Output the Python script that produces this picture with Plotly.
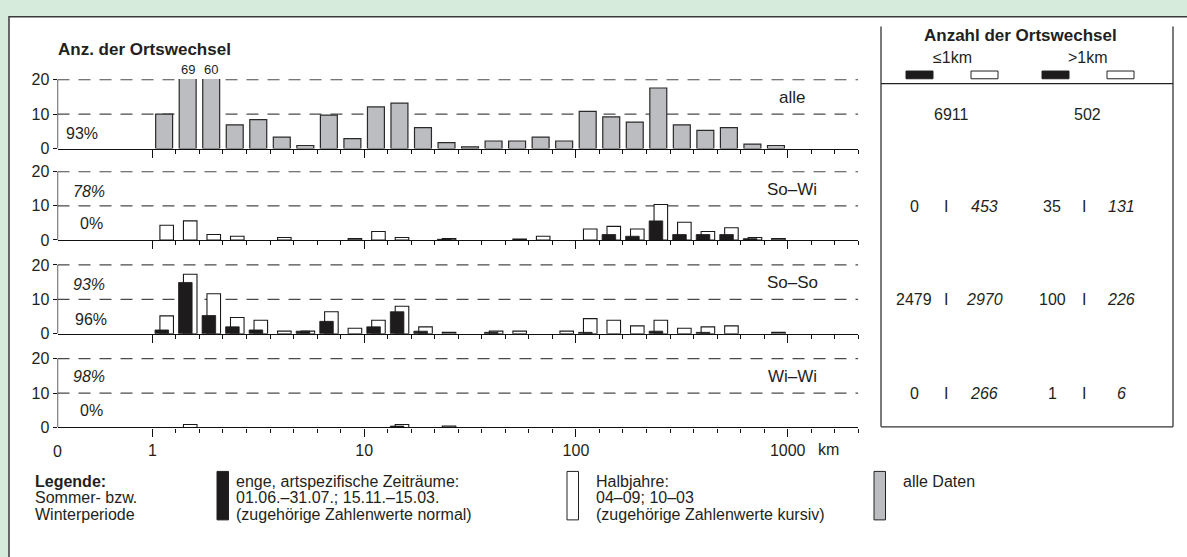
import math
import plotly.graph_objects as go

# ---------------- data ----------------
BINS_PER_DECADE = 9          # logarithmic distance classes, 9 per decade, starting at 1 km
N_BINS = 30
km_tick_values = [1, 10, 100, 1000]
km_tick_labels = ["1", "10", "100", "1000"]
y_tick_values = [0, 10, 20]

# number of site changes per distance class
alle = [10, 69, 60, 6.9, 8.4, 3.3, 0.9, 9.7, 2.9, 12.1, 13.2, 6.1, 1.7, 0.5, 2.2,
        2.2, 3.3, 2.2, 10.8, 9.2, 7.7, 17.6, 6.9, 5.3, 6.1, 1.3, 0.9, 0, 0, 0]

sowi_halb = [4.3, 5.6, 1.6, 1.1, 0, 0.75, 0, 0, 0.4, 2.5, 0.75, 0, 0.4, 0, 0,
             0.3, 1.1, 0, 3.2, 4.0, 3.2, 10.4, 5.2, 2.5, 3.6, 0.75, 0.4, 0, 0, 0]
sowi_eng = [0, 0, 0, 0, 0, 0, 0, 0, 0, 0, 0, 0, 0.2, 0, 0,
            0, 0, 0, 0, 1.6, 1.1, 5.6, 1.6, 1.6, 1.6, 0.4, 0, 0, 0, 0]

soso_halb = [5.2, 17.3, 11.6, 4.7, 3.9, 0.75, 0.75, 6.4, 1.6, 3.9, 8.0, 2.0, 0.4, 0, 0.75,
             0.75, 0, 0.75, 4.4, 3.9, 2.3, 3.9, 1.6, 2.0, 2.3, 0, 0.4, 0, 0, 0]
soso_eng = [1.1, 14.9, 5.3, 2.0, 1.1, 0, 0.75, 3.6, 0, 2.0, 6.4, 0.75, 0, 0, 0.4,
            0, 0, 0, 0.4, 0, 0, 0.75, 0, 0.4, 0, 0, 0, 0, 0, 0]

wiwi_halb = [0, 0.85, 0, 0, 0, 0, 0, 0, 0, 0, 0.85, 0, 0.4, 0, 0,
             0, 0, 0, 0, 0, 0, 0, 0, 0, 0, 0, 0, 0, 0, 0]
wiwi_eng = [0, 0, 0, 0, 0, 0, 0, 0, 0, 0, 0.4, 0, 0, 0, 0,
            0, 0, 0, 0, 0, 0, 0, 0, 0, 0, 0, 0, 0, 0, 0]

panel_names = ["alle", "So–Wi", "So–So", "Wi–Wi"]
pct_kursiv = [None, "78%", "93%", "98%"]
pct_normal = ["93%", "0%", "96%", "0%"]

tab_alle = ["6911", "502"]
tab_le1_eng = ["0", "2479", "0"]
tab_le1_halb = ["453", "2970", "266"]
tab_gt1_eng = ["35", "100", "1"]
tab_gt1_halb = ["131", "226", "6"]

# ---------------- style ----------------
W, H = 1187, 557
FONT = "Liberation Sans, Arial, sans-serif"
TXT = "#231f20"
GRAY = "#bcbdc1"
BLACK = "#1d1b1c"
GREEN = "#d6ebdb"


def px(x):
    return x / W


def py(y):
    return 1 - y / H


log_ticks = [math.log10(v) for v in km_tick_values]
edges = [i / BINS_PER_DECADE for i in range(N_BINS + 1)]
centers = [(i + 0.5) / BINS_PER_DECADE for i in range(N_BINS)]
X_MIN, X_MAX = -0.448, N_BINS / BINS_PER_DECADE
Y_TOP = 20.25   # a little headroom above 20

GRAY_W = 0.080
NARROW_W = 0.064
OFF_ENG = -0.011
OFF_HALB = 0.012


def nz(v):
    return [None if a == 0 else a for a in v]


fig = go.Figure()

# panel 1 : all data
fig.add_trace(go.Bar(x=centers, y=nz(alle), width=[GRAY_W] * N_BINS,
                     marker=dict(color=GRAY, line=dict(color="#2a2a2a", width=1.2)),
                     xaxis="x", yaxis="y", hoverinfo="skip"))

pairs = [(sowi_halb, sowi_eng), (soso_halb, soso_eng), (wiwi_halb, wiwi_eng)]
for k, (halb, eng) in enumerate(pairs, start=2):
    fig.add_trace(go.Bar(x=[c + OFF_HALB for c in centers], y=nz(halb), width=[NARROW_W] * N_BINS,
                         marker=dict(color="white", line=dict(color="#1a1a1a", width=1.1)),
                         xaxis=f"x{k}", yaxis=f"y{k}", hoverinfo="skip"))
    fig.add_trace(go.Bar(x=[c + OFF_ENG for c in centers], y=nz(eng), width=[NARROW_W] * N_BINS,
                         marker=dict(color=BLACK, line=dict(color=BLACK, width=0.8)),
                         xaxis=f"x{k}", yaxis=f"y{k}", hoverinfo="skip"))

# panel vertical positions (pixel y of value 0 and value 20)
panel_px = [(145, 74), (239.3, 168.9), (336, 265), (432.7, 361.7)]
X_DOMAIN = [px(57.5), px(858.3)]

layout = dict(
    width=W, height=H, margin=dict(l=0, r=0, t=0, b=0), autosize=False,
    paper_bgcolor=GREEN, plot_bgcolor="rgba(0,0,0,0)",
    barmode="overlay", showlegend=False,
    font=dict(family=FONT, size=16, color=TXT),
)

for k in range(1, 5):
    sfx = "" if k == 1 else str(k)
    y0, y20 = panel_px[k - 1]
    y_top_px = y0 - (y0 - y20) * Y_TOP / 20
    layout[f"xaxis{sfx}"] = dict(
        domain=X_DOMAIN, range=[X_MIN, X_MAX], anchor=f"y{sfx}",
        showline=True, linecolor="#111", linewidth=1.3,
        showgrid=False, zeroline=False,
        tickmode="array", tickvals=log_ticks, ticktext=km_tick_labels,
        ticks="outside", ticklen=8, tickwidth=1.3, tickcolor="#111",
        showticklabels=(k == 4), tickfont=dict(size=16, family=FONT, color=TXT),
        minor=dict(tickmode="array", tickvals=edges, ticks="outside", ticklen=4,
                   tickwidth=1.2, tickcolor="#111", showgrid=False),
    )
    layout[f"yaxis{sfx}"] = dict(
        domain=[py(y0), py(y_top_px)], range=[0, Y_TOP], anchor=f"x{sfx}",
        tickmode="array", tickvals=y_tick_values,
        showline=False, showgrid=False, zeroline=False,
        ticks="outside", ticklen=4, tickwidth=1.3, tickcolor="#111",
        tickfont=dict(size=16, family=FONT, color=TXT),
    )

fig.update_layout(**layout)

shapes = []
# white card with frame
shapes.append(dict(type="rect", xref="paper", yref="paper", x0=px(9), x1=px(W + 20),
                   y0=py(H + 20), y1=py(9), fillcolor="white",
                   line=dict(color="#3a3a3a", width=1.5), layer="below"))
for k in range(1, 5):
    sfx = "" if k == 1 else str(k)
    # dashed reference lines at the y tick values (except 0)
    for v in y_tick_values[1:]:
        shapes.append(dict(type="line", xref=f"x{sfx}", yref=f"y{sfx}", x0=X_MIN, x1=X_MAX,
                           y0=v, y1=v, layer="below",
                           line=dict(color="#4a4a4a", width=1.1, dash="12px,9px")))
    # y axis line from 0 to 20
    shapes.append(dict(type="line", xref=f"x{sfx}", yref=f"y{sfx}", x0=X_MIN, x1=X_MIN,
                       y0=0, y1=y_tick_values[-1], line=dict(color="#111", width=1.3)))
# right table box
for xx in (881, 1173):
    shapes.append(dict(type="line", xref="paper", yref="paper", x0=px(xx), x1=px(xx),
                       y0=py(19), y1=py(432), line=dict(color="#333", width=1.3)))
shapes.append(dict(type="line", xref="paper", yref="paper", x0=px(881), x1=px(1173),
                   y0=py(432), y1=py(432), line=dict(color="#333", width=1.3)))
shapes.append(dict(type="line", xref="paper", yref="paper", x0=px(881), x1=px(1173),
                   y0=py(78), y1=py(78), line=dict(color="#222", width=1.3)))
# table key rectangles
for x0, fill in [(906, BLACK), (971, "white"), (1042, BLACK), (1107, "white")]:
    shapes.append(dict(type="rect", xref="paper", yref="paper", x0=px(x0), x1=px(x0 + 27),
                       y0=py(73), y1=py(65), fillcolor=fill, line=dict(color="#222", width=1)))
# legend rectangles
for x0, fill in [(217, BLACK), (567, "white"), (874, GRAY)]:
    shapes.append(dict(type="rect", xref="paper", yref="paper", x0=px(x0), x1=px(x0 + 11.5),
                       y0=py(528), y1=py(478), fillcolor=fill, line=dict(color="#222", width=1)))

ann = []


def T(x, y, text, size=16, xanchor="center", bold=False, italic=False, **kw):
    if bold:
        text = f"<b>{text}</b>"
    if italic:
        text = f"<i>{text}</i>"
    d = dict(x=px(x), y=py(y), xref="paper", yref="paper", text=text, showarrow=False,
             xanchor=xanchor, yanchor="middle", borderpad=0, borderwidth=0,
             font=dict(size=size, family=FONT, color=TXT))
    d.update(kw)
    ann.append(d)


T(58, 43, "Anz. der Ortswechsel", size=17, xanchor="left", bold=True)

# clipped bar values in panel 1
for i, v in enumerate(alle):
    if v > 20:
        ann.append(dict(x=centers[i], y=Y_TOP, xref="x", yref="y", text=f"{v:g}", showarrow=False,
                        yanchor="bottom", yshift=0, font=dict(size=13, family=FONT, color=TXT)))

# panel labels and percentages
pct_px = [(None, 129), (189, 222), (285, 321), (380, 415)]
for k in range(4):
    y0, y20 = panel_px[k]
    T(792, y20 + 18, panel_names[k], size=17)
    ky, ny = pct_px[k]
    if pct_kursiv[k]:
        T(89, ky, pct_kursiv[k], size=16, italic=True)
    T(82 if k == 0 else 91, ny, pct_normal[k], size=16)

# x axis extra labels
T(57.5, 457, "0", size=16)
T(828, 455, "km", size=16)

# right table
T(1020, 28, "Anzahl der Ortswechsel", size=17, bold=True)
T(952, 51, "≤1km", size=16)
T(1088, 51, ">1km", size=16)
T(951, 110, tab_alle[0], size=16)
T(1087, 110, tab_alle[1], size=16)
for r in range(3):
    yk = f"y{r + 2} domain"
    for xx, txt, it in [(914, tab_le1_eng[r], False), (946, "I", False), (984, tab_le1_halb[r], True),
                        (1052, tab_gt1_eng[r], False), (1084, "I", False), (1121, tab_gt1_halb[r], True)]:
        t = f"<i>{txt}</i>" if it else txt
        ann.append(dict(x=px(xx), y=0.49, xref="paper", yref=yk, text=t, showarrow=False,
                        xanchor="center", yanchor="middle", font=dict(size=16, family=FONT, color=TXT)))

# bottom legend
LS = 16
T(35, 488, "Legende:", size=LS, xanchor="left", bold=True)
T(35, 505, "Sommer- bzw.", size=LS, xanchor="left")
T(35, 522, "Winterperiode", size=LS, xanchor="left")
T(236, 488, "enge, artspezifische Zeiträume:", size=LS, xanchor="left")
T(236, 505, "01.06.–31.07.; 15.11.–15.03.", size=LS, xanchor="left")
T(236, 522, "(zugehörige Zahlenwerte normal)", size=LS, xanchor="left")
T(596, 488, "Halbjahre:", size=LS, xanchor="left")
T(596, 505, "04–09; 10–03", size=LS, xanchor="left")
T(596, 522, "(zugehörige Zahlenwerte kursiv)", size=LS, xanchor="left")
T(903, 488, "alle Daten", size=LS, xanchor="left")

fig.update_layout(shapes=shapes, annotations=ann)
fig.write_html("out.html", config={"displayModeBar": False},
               post_script="document.body.style.margin='0';document.body.style.overflow='hidden';")
